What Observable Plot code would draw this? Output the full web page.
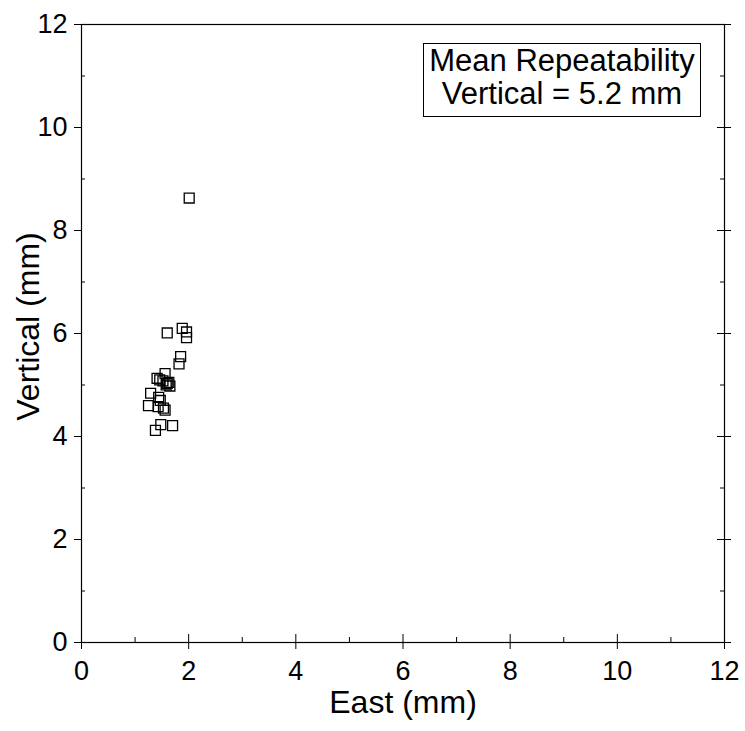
<!DOCTYPE html>
<html>
<head>
<meta charset="utf-8">
<script src="https://cdn.jsdelivr.net/npm/d3@7"></script>
<script src="https://cdn.jsdelivr.net/npm/@observablehq/plot@0.6"></script>
<style>
  html, body { margin: 0; padding: 0; background: #fff; }
  #chart { position: relative; width: 745px; height: 731px; font-family: "Liberation Sans", Arial, sans-serif; }
  #legend {
    position: absolute; left: 423px; top: 43px; width: 278px; height: 74px;
    box-sizing: border-box; border: 1px solid #000; background: #fff;
    text-align: center; font-size: 31px; line-height: 33px; padding-top: 0px; color: #000;
    white-space: nowrap;
  }
</style>
</head>
<body>
<div id="chart"></div>
<script>
// Repeatability per station: east and vertical components (mm)
const east     = [2.01, 1.60, 1.88, 1.96, 1.96, 1.85, 1.82, 1.56, 1.41, 1.46, 1.52, 1.63, 1.58, 1.65, 1.60, 1.29, 1.44, 1.47, 1.25, 1.43, 1.56, 1.53, 1.48, 1.70, 1.38];
const vertical = [8.63, 6.01, 6.10, 6.03, 5.92, 5.55, 5.41, 5.22, 5.13, 5.10, 5.08, 5.05, 5.00, 4.98, 5.03, 4.84, 4.76, 4.70, 4.60, 4.58, 4.51, 4.55, 4.23, 4.21, 4.12];

const majorTicks = [0, 2, 4, 6, 8, 10, 12];
const minorTicks = [1, 3, 5, 7, 9, 11];
const xLabel = "East (mm)";
const yLabel = "Vertical (mm)";
const legendLines = ["Mean Repeatability", "Vertical = 5.2 mm"];

const points = east.map((e, i) => ({east: e, vertical: vertical[i]}));
const fmt = d => String(d);

const chart = Plot.plot({
  width: 745,
  height: 731,
  marginLeft: 81,
  marginRight: 21,
  marginTop: 24,
  marginBottom: 89,
  style: {fontFamily: "'Liberation Sans', Arial, sans-serif", background: "#fff", color: "#000"},
  x: {domain: [0, 12]},
  y: {domain: [0, 12]},
  marks: [
    Plot.frame({stroke: "#000", strokeWidth: 1.2}),
    // tick labels
    Plot.axisX(majorTicks, {tickSize: 0, tickPadding: 18, fontSize: 27, tickFormat: fmt, label: null}),
    Plot.axisY(majorTicks, {tickSize: 0, tickPadding: 14, fontSize: 27, tickFormat: fmt, label: null}),
    // bottom ticks: major cross the axis, minor point inward
    Plot.ruleX(majorTicks, {x: d => d, y1: 0, y2: 0, insetTop: -8, insetBottom: -7, stroke: "#000"}),
    Plot.ruleX(minorTicks, {x: d => d, y1: 0, y2: 0, insetTop: -5, insetBottom: 0, stroke: "#000"}),
    // left ticks: major outward, minor inward
    Plot.ruleY(majorTicks, {y: d => d, x1: 0, x2: 0, insetLeft: -7, insetRight: 0, stroke: "#000"}),
    Plot.ruleY(minorTicks, {y: d => d, x1: 0, x2: 0, insetLeft: 0, insetRight: -4, stroke: "#000"}),
    // right ticks: major cross the axis, minor inward
    Plot.ruleY(majorTicks, {y: d => d, x1: 12, x2: 12, insetLeft: -7, insetRight: -7, stroke: "#000"}),
    Plot.ruleY(minorTicks, {y: d => d, x1: 12, x2: 12, insetLeft: -4, insetRight: 0, stroke: "#000"}),
    // axis titles
    Plot.text([xLabel], {frameAnchor: "bottom", dy: 60, fontSize: 32, textAnchor: "middle", lineAnchor: "middle", fill: "#000"}),
    Plot.text([yLabel], {frameAnchor: "left", dx: -53, dy: -7, rotate: -90, fontSize: 32, textAnchor: "middle", lineAnchor: "middle", fill: "#000"}),
    // station points
    Plot.dot(points, {x: "east", y: "vertical", symbol: "square", r: 5.6, stroke: "#000", strokeWidth: 1.3, fill: "none"})
  ]
});

const root = document.getElementById("chart");
root.appendChild(chart);
const legend = document.createElement("div");
legend.id = "legend";
legend.innerHTML = legendLines.map(t => `<div>${t}</div>`).join("");
root.appendChild(legend);
</script>
</body>
</html>
